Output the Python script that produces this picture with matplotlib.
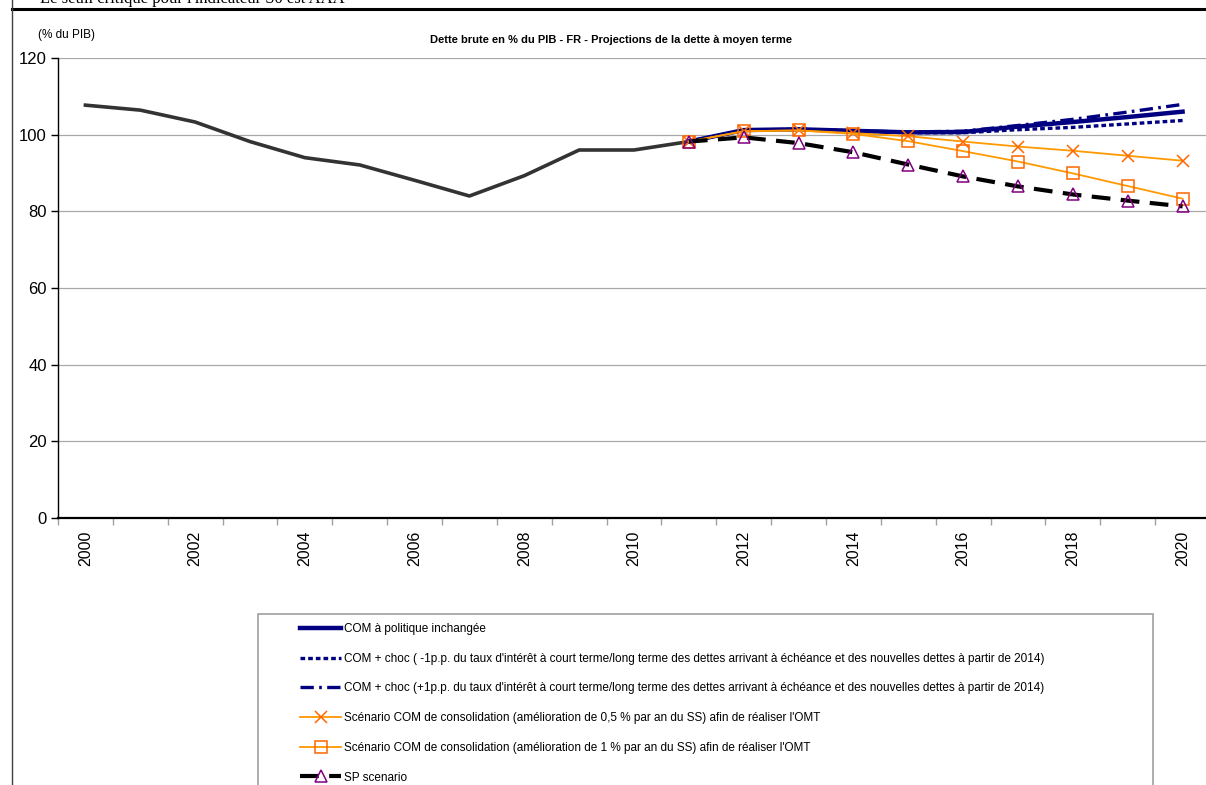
import matplotlib
matplotlib.use("Agg")
import matplotlib.pyplot as plt
from matplotlib.lines import Line2D
from matplotlib.patches import Rectangle

plt.rcParams['font.family'] = ['Liberation Sans', 'DejaVu Sans']

# years on the category axis
years = list(range(2000, 2021))
proj_years = list(range(2011, 2021))

# historical gross debt (% of GDP), 2000-2011
hist = [107.7, 106.4, 103.3, 98.2, 94.0, 92.1, 88.1, 84.0, 89.3, 96.0, 96.0, 98.2]

# projections 2011-2020
com = [98.2, 101.2, 101.4, 101.0, 100.6, 100.7, 102.1, 103.3, 104.6, 106.0]
com_minus = [98.2, 101.2, 101.4, 101.0, 100.5, 100.5, 101.3, 101.9, 102.8, 103.7]
com_plus = [98.2, 101.2, 101.4, 101.0, 100.7, 100.9, 102.4, 104.0, 105.9, 107.9]
cons_05 = [98.2, 100.9, 101.1, 100.4, 99.6, 98.2, 96.9, 95.8, 94.5, 93.2]
cons_1 = [98.2, 100.9, 101.1, 100.2, 98.3, 95.7, 93.0, 89.9, 86.6, 83.3]
sp = [98.2, 99.3, 97.8, 95.4, 92.2, 89.1, 86.5, 84.4, 82.8, 81.3]

labels = [
    "COM à politique inchangée",
    "COM + choc ( -1p.p. du taux d'intérêt à court terme/long terme des dettes arrivant à échéance et des nouvelles dettes à partir de 2014)",
    "COM + choc (+1p.p. du taux d'intérêt à court terme/long terme des dettes arrivant à échéance et des nouvelles dettes à partir de 2014)",
    "Scénario COM de consolidation (amélioration de 0,5 % par an du SS) afin de réaliser l'OMT",
    "Scénario COM de consolidation (amélioration de 1 % par an du SS) afin de réaliser l'OMT",
    "SP scenario",
]

W, H = 1206, 785
fig = plt.figure(figsize=(W / 100, H / 100), dpi=100)
ax = fig.add_axes([58 / W, 267 / H, 1152 / W, 460 / H])

xh = [years.index(y) for y in years[:len(hist)]]
xp = [years.index(y) for y in proj_years]

ax.plot(xh, hist, color='#333333', lw=2.6, solid_joinstyle='round', zorder=3)
l1, = ax.plot(xp, com, color='#000080', lw=3.2, zorder=3)
l2, = ax.plot(xp, com_minus, color='#000080', lw=2.4, linestyle=(0, (1.4, 0.9)), zorder=4)
l3, = ax.plot(xp, com_plus, color='#000080', lw=2.4, linestyle=(0, (4, 1.6, 0.8, 1.6)), zorder=4)
l4, = ax.plot(xp, cons_05, color='#ff9900', lw=1.3, marker='x', ms=9, mec='#ff6600', mew=1.1, zorder=5)
l5, = ax.plot(xp, cons_1, color='#ff9900', lw=1.3, marker='s', ms=8, mfc='none', mec='#ff6600', mew=1.1, zorder=5)
l6, = ax.plot(xp, sp, color='black', lw=3.0, linestyle=(0, (4.5, 2.5)), marker='^', ms=8,
              mfc='none', mec='#800080', mew=1.1, zorder=6)

ax.set_ylim(0, 120)
ax.set_xlim(-0.5, len(years) - 0.5)
ax.set_yticks(range(0, 121, 20))
ax.tick_params(axis='y', labelsize=12, length=5, width=1, pad=3)
ax.yaxis.grid(True, color='#a8a8a8', lw=0.9)
ax.set_axisbelow(True)

# labels every two years, gray tick marks between categories
ax.set_xticks(range(0, len(years), 2))
ax.set_xticklabels([str(y) for y in years[::2]], rotation=90, fontsize=11.5, va='top')
ax.set_xticks([i - 0.5 for i in range(len(years) + 1)], minor=True)
ax.tick_params(axis='x', which='major', length=0, pad=9)
ax.tick_params(axis='x', which='minor', length=5, color='#a0a0a0', width=1)

for s in ('top', 'right'):
    ax.spines[s].set_visible(False)
ax.spines['left'].set_linewidth(1.0)
ax.spines['bottom'].set_linewidth(1.6)

fig.text(38 / W, 1 - 35 / H, "(% du PIB)", fontsize=8.5, va='center', ha='left')
fig.text(611 / W, 1 - 40 / H, "Dette brute en % du PIB - FR - Projections de la dette à moyen terme",
         fontsize=8, fontweight='bold', ha='center', va='center')

# page frame and the cut-off line of text above it
fig.text(40 / W, 1 - 3 / H, "Le seuil critique pour l'indicateur S0 est AAA",
         family=['Liberation Serif', 'DejaVu Serif'], fontsize=12, va='baseline')
fig.add_artist(Line2D([12 / W, 1], [1 - 8.5 / H, 1 - 8.5 / H], color='black', lw=2.2))
fig.add_artist(Line2D([12 / W, 12 / W], [0, 1], color='#404040', lw=1.0))

# legend box
fig.add_artist(Rectangle((258 / W, -0.05), (1153 - 258) / W, 0.05 + (785 - 614) / H,
                         transform=fig.transFigure, fill=False, edgecolor='#a0a0a0', lw=1.2))
fig.legend([l1, l2, l3, l4, l5, l6], labels, loc='upper left',
           bbox_to_anchor=(300 / W, 1 - 623 / H), frameon=False, fontsize=8.5,
           handlelength=3.5, handletextpad=0.2, labelspacing=1.5,
           borderpad=0, borderaxespad=0)

fig.savefig("out.png", dpi=100)
